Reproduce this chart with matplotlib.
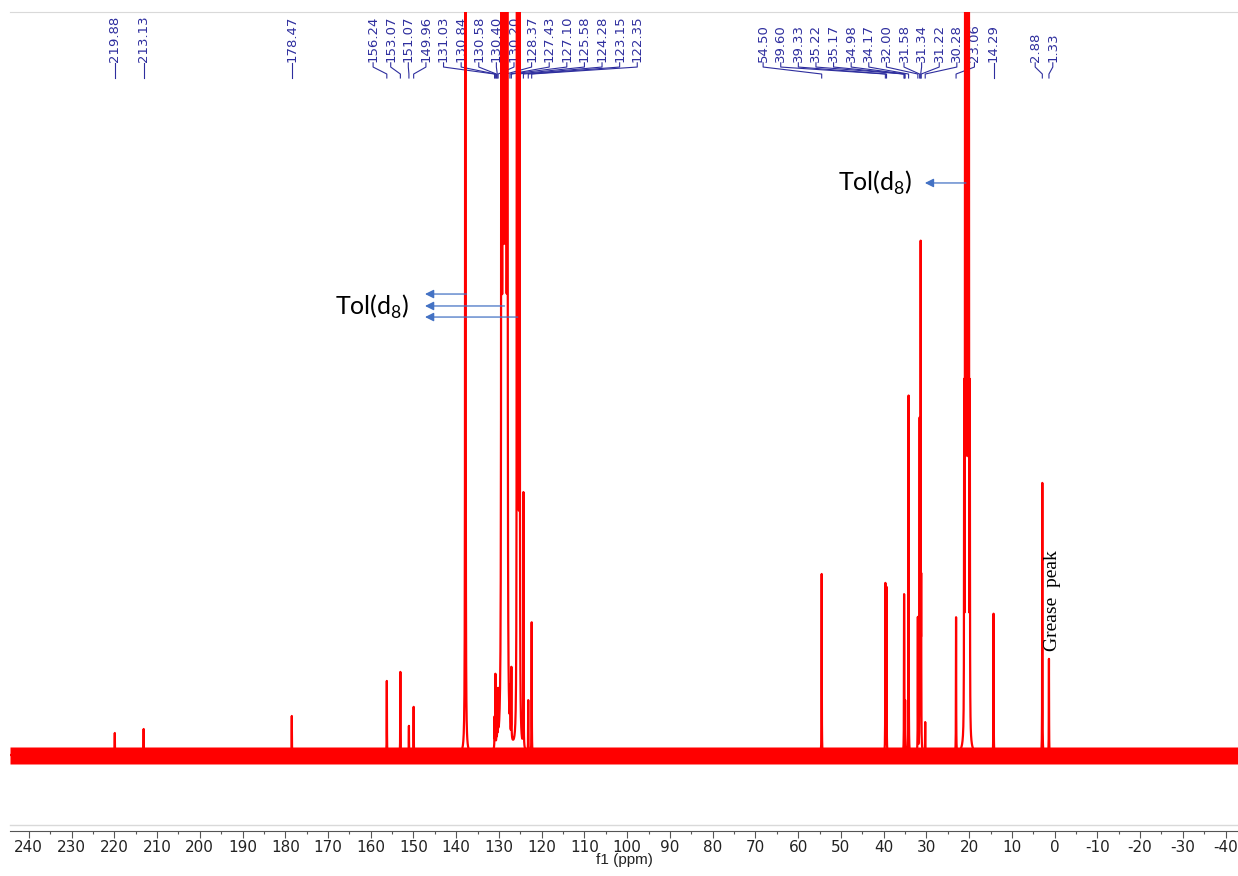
import matplotlib.pyplot as plt
import numpy as np
from matplotlib.ticker import MultipleLocator
from matplotlib.transforms import blended_transform_factory

# peak list: shift (ppm) and height above the baseline
peak_ppm = [219.88, 213.13, 178.47, 156.24, 153.07, 151.07, 149.96,
            131.03, 130.84, 130.58, 130.40, 130.20, 127.43, 127.10,
            125.58, 124.28, 123.15, 122.35,
            54.50, 39.60, 39.33, 35.22, 35.17, 34.98, 34.17, 32.00,
            31.58, 31.34, 31.22, 30.28, 23.06, 14.29, 2.88, 1.33]
peak_height = [22, 26, 39, 74, 83, 29, 48,
               30, 72, 25, 30, 47, 40, 70,
               58, 255, 52, 131,
               181, 170, 166, 135, 90, 50, 359, 135,
               328, 500, 150, 32, 136, 141, 272, 96]

# toluene-d8 solvent multiplets
solvent_ppm = [137.86, 129.10, 128.35, 125.49, 20.50]
solvent_pattern = [[1], [1, 1, 1], [1, 1, 1], [1, 1, 1], [1, 3, 6, 7, 6, 3, 1]]
solvent_split = [0.0, 0.3, 0.3, 0.3, 0.22]
solvent_height = [2600, 4000, 4000, 2200, 2300]

# peak labels printed along the top, grouped as in the original
label_groups = [[219.88], [213.13], [178.47],
                [156.24, 153.07, 151.07, 149.96, 131.03, 130.84, 130.58, 130.40,
                 130.20, 128.37, 127.43, 127.10, 125.58, 124.28, 123.15, 122.35],
                [54.50, 39.60, 39.33, 35.22, 35.17, 34.98, 34.17, 32.00, 31.58,
                 31.34, 31.22, 30.28, 23.06],
                [14.29], [2.88, 1.33]]
label_start = [219.88, 213.13, 178.47, 159.45, 68.2, 14.29, 4.55]
label_step = 4.12

noise_low, noise_high = -9, 8


def lorentz(x, x0, h, w):
    return h * w ** 2 / ((x - x0) ** 2 + w ** 2)


plt.rcParams['axes.unicode_minus'] = False
plt.rcParams['mathtext.fontset'] = 'custom'
plt.rcParams['mathtext.rm'] = 'Lato'

# build the spectrum from the peak table
centres = list(peak_ppm)
for c, pat, j in zip(solvent_ppm, solvent_pattern, solvent_split):
    n = len(pat)
    centres += [c + (k - (n - 1) / 2) * j for k in range(n)]
x = np.union1d(np.linspace(244.4, -42.9, 60000), centres)
y = np.zeros_like(x)
for c, h in zip(peak_ppm, peak_height):
    y += lorentz(x, c, h, 0.03)
for c, pat, j, h in zip(solvent_ppm, solvent_pattern, solvent_split, solvent_height):
    n = len(pat)
    for k, p in enumerate(pat):
        y += lorentz(x, c + (k - (n - 1) / 2) * j, h * p / max(pat), 0.035)

fig = plt.figure(figsize=(12.38, 8.76), dpi=100)
ax = fig.add_axes([10 / 1238, 1 - 825 / 876, 1228 / 1238, 813 / 876])

ax.fill_between(x, noise_low, noise_high, color='#FF0000', lw=0, zorder=3)
ax.plot(x, y, color='#FF0000', lw=1.6, zorder=4)

ax.set_xlim(244.4, -42.9)
ax.set_ylim(-70, 743)

ax.xaxis.set_major_locator(MultipleLocator(10))
ax.xaxis.set_minor_locator(MultipleLocator(5))
ax.xaxis.set_major_formatter(lambda v, pos: '%d' % round(v))
ax.tick_params(axis='x', which='major', direction='out', length=5, width=0.8,
               color='#555555', labelsize=11, pad=1.5, labelcolor='#222222')
ax.tick_params(axis='x', which='minor', direction='out', length=2.5, width=0.8,
               color='#555555')
for lab in ax.get_xticklabels():
    lab.set_family('Liberation Sans')
ax.set_yticks([])
ax.set_xlabel('f1 (ppm)', fontsize=11, labelpad=-1, color='#222222',
              family='Liberation Sans')

for s in ['left', 'right']:
    ax.spines[s].set_visible(False)
ax.spines['top'].set_color('#D9D9D9')
ax.spines['bottom'].set_position(('outward', 4))
ax.spines['bottom'].set_color('#555555')
ax.plot([0, 1], [0, 0], transform=ax.transAxes, color='#D9D9D9', lw=1, clip_on=False)

# peak labels and their connector lines
trans = blended_transform_factory(ax.transData, ax.transAxes)
blue = '#2E2E9E'
for group, start in zip(label_groups, label_start):
    for i, p in enumerate(group):
        lx = start - i * label_step if len(group) > 1 else p
        ax.text(lx, 0.9385, '%.2f' % p, rotation=90, ha='center', va='bottom',
                fontsize=9.5, color=blue, transform=trans, zorder=2)
        ax.plot([lx, lx, p, p], [0.9375, 0.9323, 0.9237, 0.9188], color=blue,
                lw=0.8, transform=trans, zorder=2)

# solvent annotations
arrow_kw = dict(arrowstyle='-|>', color='#4472C4', lw=0.9, mutation_scale=13,
                shrinkA=0, shrinkB=0)
for tail, yy in zip([137.6, 128.7, 125.6], [0.6531, 0.6384, 0.6248]):
    ax.annotate('', xy=(147.3, yy), xytext=(tail, yy), xycoords=trans,
                textcoords=trans, arrowprops=arrow_kw, zorder=5)
ax.annotate('', xy=(30.35, 0.7897), xytext=(20.75, 0.7897), xycoords=trans,
            textcoords=trans, arrowprops=arrow_kw, zorder=5)
ax.text(159.7, 0.637, r'Tol(d$_\mathregular{8}$)', fontsize=18, family='Lato',
        ha='center', va='center', transform=trans)
ax.text(42.05, 0.7897, r'Tol(d$_\mathregular{8}$)', fontsize=18, family='Lato',
        ha='center', va='center', transform=trans)
ax.text(0.4, 0.2755, 'Grease  peak', rotation=90, fontsize=14,
        family='Liberation Serif', ha='center', va='center', transform=trans,
        zorder=6)

fig.savefig('out.png', dpi=100)
